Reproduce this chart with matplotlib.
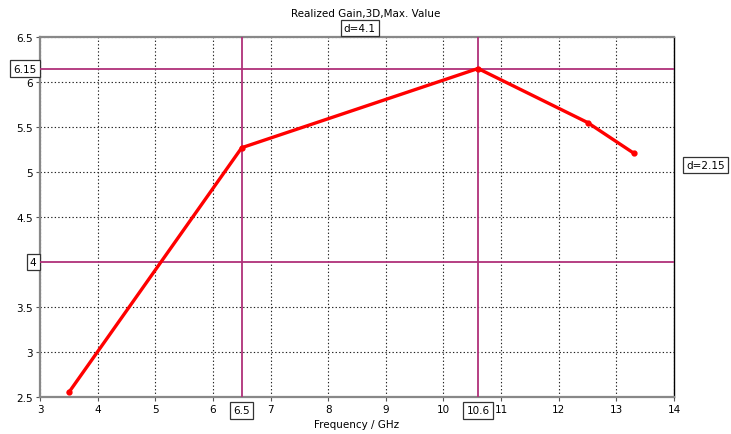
import matplotlib.pyplot as plt

# Realized gain vs frequency
freq = [3.5, 6.5, 10.6, 12.5, 13.3]
gain = [2.55, 5.27, 6.15, 5.55, 5.21]

# marker cursors
mark_x = [6.5, 10.6]
mark_y = [6.15, 4.0]
xticks = [3, 4, 5, 6, 7, 8, 9, 10, 11, 12, 13, 14]
yticks = [2.5, 3, 3.5, 4.5, 5, 5.5, 6, 6.5]

cur = '#b0307a'
box = dict(boxstyle='square,pad=0.3', fc='white', ec='#333333', lw=0.9)

fig = plt.figure(figsize=(7.31, 4.35), dpi=100)
ax = fig.add_axes([0.0547, 0.0851, 0.8673, 0.8275])

ax.plot(freq, gain, color='red', lw=2.4, marker='o', ms=3.5, zorder=5)
for x in mark_x:
    ax.axvline(x, color=cur, lw=1.3, zorder=4)
for y in mark_y:
    ax.axhline(y, color=cur, lw=1.3, zorder=4)

ax.set_xlim(3, 14)
ax.set_ylim(2.5, 6.5)
ax.set_xticks(xticks)
ax.set_yticks(yticks)
ax.set_yticklabels([('%g' % v) for v in yticks])
ax.grid(True, color='#222222', ls=(0, (1.2, 2)), lw=0.8)
ax.tick_params(labelsize=7.5, length=3, width=0.8, color='#555555', pad=2)

for s in ['left', 'top', 'bottom']:
    ax.spines[s].set_color('#888888')
    ax.spines[s].set_linewidth(1.6)
ax.spines['right'].set_color('black')
ax.spines['right'].set_linewidth(1.0)

# boxed cursor labels
for x in mark_x:
    ax.text(x, 2.5 - 0.15, '%g' % x, ha='center', va='center', fontsize=7.5,
            bbox=box, clip_on=False)
for y in mark_y:
    ax.text(2.94, y, '%g' % y, ha='right', va='center', fontsize=7.5,
            bbox=box, clip_on=False)
ax.text((mark_x[0] + mark_x[1]) / 2, 6.6, 'd=%g' % (mark_x[1] - mark_x[0]),
        ha='center', va='center', fontsize=7.5, bbox=box, clip_on=False)
ax.text(14.55, (mark_y[0] + mark_y[1]) / 2, 'd=%g' % (mark_y[0] - mark_y[1]),
        ha='center', va='center', fontsize=7.5, bbox=box, clip_on=False)

fig.text(0.5, 0.968, 'Realized Gain,3D,Max. Value', ha='center', va='center', fontsize=7.5)
ax.set_xlabel('Frequency / GHz', fontsize=7.5, labelpad=4)

fig.savefig('out.png', dpi=100)
